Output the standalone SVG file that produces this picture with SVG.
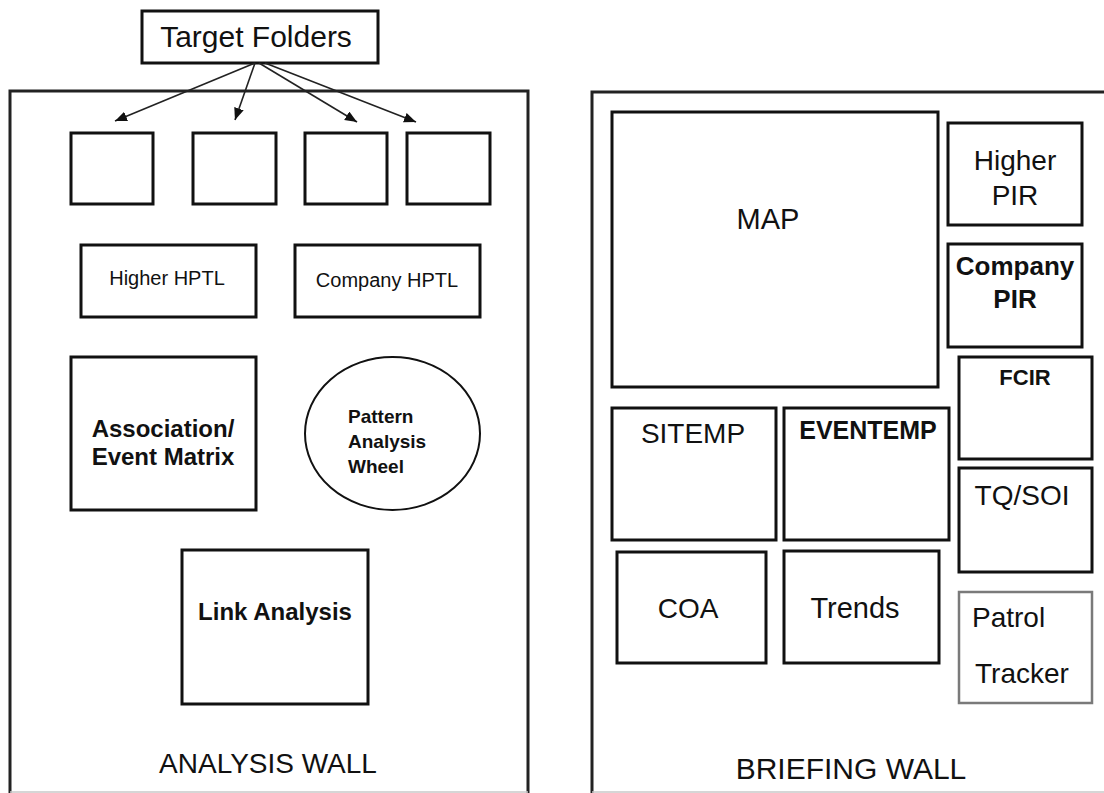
<svg xmlns="http://www.w3.org/2000/svg" width="1104" height="793" viewBox="0 0 1104 793">
  <style>
    .box { fill: #fff; stroke: #111; stroke-width: 3; }
    .wall { fill: none; stroke: #222; stroke-width: 3; }
    .edge { stroke: #c8c8c8; stroke-width: 1.5; }
    .lite { fill: #fff; stroke: #7a7a7a; stroke-width: 2.5; }
    .oval { fill: #fff; stroke: #111; stroke-width: 2; }
    .t { font-family: "Liberation Sans", Arial, sans-serif; fill: #111; }
    .c { text-anchor: middle; }
    .b { font-weight: bold; }
    .link { stroke: #222; stroke-width: 1.6; fill: none; marker-end: url(#arrow); }
  </style>
  <defs>
    <marker id="arrow" markerUnits="userSpaceOnUse" markerWidth="14" markerHeight="12" refX="12" refY="5" orient="auto">
      <path d="M0,0 L12,5 L0,10 Z" fill="#111"/>
    </marker>
  </defs>
  <rect width="1104" height="793" fill="#fff"/>

  <!-- Walls -->
  <g id="analysis-wall">
    <path class="wall" d="M10,793 V91 H528 V793"/>
    <line class="edge" x1="10" y1="792" x2="528" y2="792"/>
    <text class="t c" x="268" y="773" font-size="28">ANALYSIS WALL</text>
  </g>
  <g id="briefing-wall">
    <path class="wall" d="M592,793 V92 H1110"/>
    <line class="edge" x1="592" y1="792" x2="1104" y2="792"/>
    <text class="t c" x="851" y="779" font-size="30">BRIEFING WALL</text>
  </g>

  <!-- Target folders source -->
  <g id="target-folders">
    <rect class="box" x="142" y="11" width="236" height="52"/>
    <text class="t c" x="256" y="47" font-size="30">Target Folders</text>
  </g>

  <!-- Connectors -->
  <g id="connectors">
    <line class="link" x1="255" y1="63" x2="115" y2="121"/>
    <line class="link" x1="255" y1="63" x2="235" y2="120"/>
    <line class="link" x1="259" y1="63" x2="357" y2="122"/>
    <line class="link" x1="265" y1="63" x2="416" y2="122"/>
  </g>

  <!-- Analysis wall contents -->
  <g id="folder-1"><rect class="box" x="71" y="133" width="82" height="71"/></g>
  <g id="folder-2"><rect class="box" x="193" y="133" width="83" height="71"/></g>
  <g id="folder-3"><rect class="box" x="305" y="133" width="82" height="71"/></g>
  <g id="folder-4"><rect class="box" x="407" y="133" width="83" height="71"/></g>

  <g id="higher-hptl">
    <rect class="box" x="81" y="245" width="175" height="72"/>
    <text class="t c" x="167" y="285" font-size="20">Higher HPTL</text>
  </g>
  <g id="company-hptl">
    <rect class="box" x="295" y="245" width="185" height="72"/>
    <text class="t c" x="387" y="287" font-size="20">Company HPTL</text>
  </g>

  <g id="association-matrix">
    <rect class="box" x="71" y="357" width="185" height="153"/>
    <text class="t c b" x="163" y="437" font-size="24">Association/</text>
    <text class="t c b" x="163" y="465" font-size="24">Event Matrix</text>
  </g>

  <g id="pattern-wheel">
    <ellipse class="oval" cx="392.5" cy="433.5" rx="87.5" ry="76.5"/>
    <text class="t b" x="348" y="423" font-size="19">Pattern</text>
    <text class="t b" x="348" y="448" font-size="19">Analysis</text>
    <text class="t b" x="348" y="473" font-size="19">Wheel</text>
  </g>

  <g id="link-analysis">
    <rect class="box" x="182" y="550" width="186" height="154"/>
    <text class="t c b" x="275" y="620" font-size="24">Link Analysis</text>
  </g>

  <!-- Briefing wall contents -->
  <g id="map">
    <rect class="box" x="612" y="112" width="326" height="275"/>
    <text class="t c" x="768" y="229" font-size="29">MAP</text>
  </g>
  <g id="higher-pir">
    <rect class="box" x="948" y="123" width="134" height="102"/>
    <text class="t c" x="1015" y="170" font-size="28">Higher</text>
    <text class="t c" x="1015" y="205" font-size="28">PIR</text>
  </g>
  <g id="company-pir">
    <rect class="box" x="948" y="244" width="134" height="103"/>
    <text class="t c b" x="1015" y="275" font-size="26">Company</text>
    <text class="t c b" x="1015" y="308" font-size="26">PIR</text>
  </g>
  <g id="fcir">
    <rect class="box" x="959" y="357" width="133" height="102"/>
    <text class="t c b" x="1025" y="385" font-size="22">FCIR</text>
  </g>
  <g id="tq-soi">
    <rect class="box" x="959" y="468" width="133" height="104"/>
    <text class="t c" x="1022" y="505" font-size="28">TQ/SOI</text>
  </g>
  <g id="patrol-tracker">
    <rect class="lite" x="959" y="592" width="133" height="111"/>
    <text class="t" x="972" y="627" font-size="28">Patrol</text>
    <text class="t" x="975" y="683" font-size="28">Tracker</text>
  </g>
  <g id="sitemp">
    <rect class="box" x="612" y="408" width="164" height="132"/>
    <text class="t c" x="693" y="443" font-size="28">SITEMP</text>
  </g>
  <g id="eventemp">
    <rect class="box" x="784" y="408" width="165" height="132"/>
    <text class="t c b" x="868" y="439" font-size="25">EVENTEMP</text>
  </g>
  <g id="coa">
    <rect class="box" x="617" y="552" width="149" height="111"/>
    <text class="t c" x="688" y="618" font-size="28">COA</text>
  </g>
  <g id="trends">
    <rect class="box" x="784" y="551" width="155" height="112"/>
    <text class="t c" x="855" y="618" font-size="29">Trends</text>
  </g>
</svg>
